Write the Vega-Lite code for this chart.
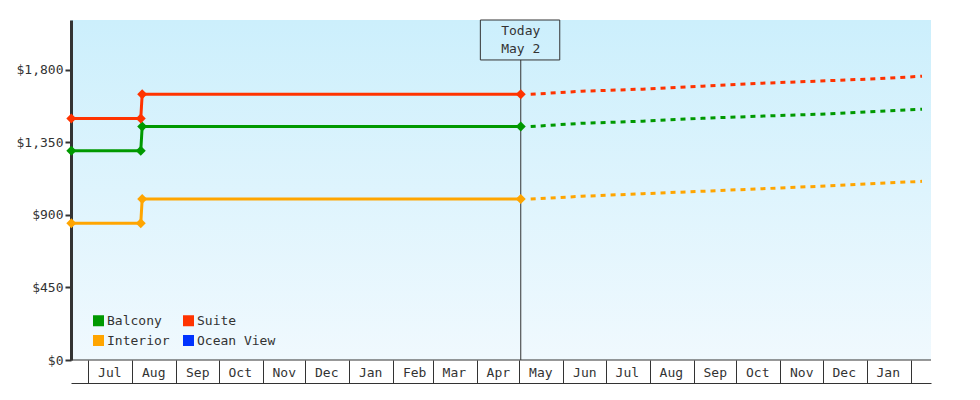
{
  "$schema": "https://vega.github.io/schema/vega-lite/v6.json",
  "width": 860,
  "height": 340,
  "autosize": {"type": "none"},
  "padding": {"left": 71, "top": 20, "right": 49, "bottom": 40},
  "background": "white",
  "data": {
    "values": [
      {"series": "Balcony", "date": "2024-06-19T00:00:00", "price": 1299, "kind": "actual"},
      {"series": "Balcony", "date": "2024-08-07T00:00:00", "price": 1299, "kind": "actual"},
      {"series": "Balcony", "date": "2024-08-08T00:00:00", "price": 1449, "kind": "actual"},
      {"series": "Balcony", "date": "2025-05-02T00:00:00", "price": 1449, "kind": "actual"},
      {"series": "Suite", "date": "2024-06-19T00:00:00", "price": 1499, "kind": "actual"},
      {"series": "Suite", "date": "2024-08-07T00:00:00", "price": 1499, "kind": "actual"},
      {"series": "Suite", "date": "2024-08-08T00:00:00", "price": 1649, "kind": "actual"},
      {"series": "Suite", "date": "2025-05-02T00:00:00", "price": 1649, "kind": "actual"},
      {"series": "Interior", "date": "2024-06-19T00:00:00", "price": 849, "kind": "actual"},
      {"series": "Interior", "date": "2024-08-07T00:00:00", "price": 849, "kind": "actual"},
      {"series": "Interior", "date": "2024-08-08T00:00:00", "price": 999, "kind": "actual"},
      {"series": "Interior", "date": "2025-05-02T00:00:00", "price": 999, "kind": "actual"},
      {"series": "Suite", "date": "2025-05-09T00:00:00", "price": 1649, "kind": "forecast"},
      {"series": "Suite", "date": "2025-06-14T00:00:00", "price": 1668, "kind": "forecast"},
      {"series": "Suite", "date": "2025-07-27T00:00:00", "price": 1681, "kind": "forecast"},
      {"series": "Suite", "date": "2025-09-07T00:00:00", "price": 1699, "kind": "forecast"},
      {"series": "Suite", "date": "2025-10-17T00:00:00", "price": 1717, "kind": "forecast"},
      {"series": "Suite", "date": "2025-11-28T00:00:00", "price": 1731, "kind": "forecast"},
      {"series": "Suite", "date": "2026-01-10T00:00:00", "price": 1746, "kind": "forecast"},
      {"series": "Suite", "date": "2026-02-09T00:00:00", "price": 1761, "kind": "forecast"},
      {"series": "Balcony", "date": "2025-05-09T00:00:00", "price": 1449, "kind": "forecast"},
      {"series": "Balcony", "date": "2025-06-14T00:00:00", "price": 1469, "kind": "forecast"},
      {"series": "Balcony", "date": "2025-07-27T00:00:00", "price": 1482, "kind": "forecast"},
      {"series": "Balcony", "date": "2025-09-07T00:00:00", "price": 1500, "kind": "forecast"},
      {"series": "Balcony", "date": "2025-10-17T00:00:00", "price": 1513, "kind": "forecast"},
      {"series": "Balcony", "date": "2025-11-28T00:00:00", "price": 1525, "kind": "forecast"},
      {"series": "Balcony", "date": "2026-01-10T00:00:00", "price": 1543, "kind": "forecast"},
      {"series": "Balcony", "date": "2026-02-09T00:00:00", "price": 1556, "kind": "forecast"},
      {"series": "Interior", "date": "2025-05-09T00:00:00", "price": 999, "kind": "forecast"},
      {"series": "Interior", "date": "2025-06-14T00:00:00", "price": 1016, "kind": "forecast"},
      {"series": "Interior", "date": "2025-07-27T00:00:00", "price": 1032, "kind": "forecast"},
      {"series": "Interior", "date": "2025-09-07T00:00:00", "price": 1047, "kind": "forecast"},
      {"series": "Interior", "date": "2025-10-17T00:00:00", "price": 1062, "kind": "forecast"},
      {"series": "Interior", "date": "2025-11-28T00:00:00", "price": 1078, "kind": "forecast"},
      {"series": "Interior", "date": "2026-01-10T00:00:00", "price": 1096, "kind": "forecast"},
      {"series": "Interior", "date": "2026-02-09T00:00:00", "price": 1109, "kind": "forecast"}
    ]
  },
  "encoding": {
    "x": {
      "field": "date",
      "type": "temporal",
      "title": null,
      "scale": {
        "domain": [
          {"year": 2024, "month": 6, "date": 18, "hours": 19},
          {"year": 2026, "month": 2, "date": 15, "hours": 8}
        ]
      },
      "axis": {
        "values": [
          {"year": 2024, "month": 7, "date": 1}, {"year": 2024, "month": 8, "date": 1},
          {"year": 2024, "month": 9, "date": 1}, {"year": 2024, "month": 10, "date": 1},
          {"year": 2024, "month": 11, "date": 1}, {"year": 2024, "month": 12, "date": 1},
          {"year": 2025, "month": 1, "date": 1}, {"year": 2025, "month": 2, "date": 1},
          {"year": 2025, "month": 3, "date": 1}, {"year": 2025, "month": 4, "date": 1},
          {"year": 2025, "month": 5, "date": 1}, {"year": 2025, "month": 6, "date": 1},
          {"year": 2025, "month": 7, "date": 1}, {"year": 2025, "month": 8, "date": 1},
          {"year": 2025, "month": 9, "date": 1}, {"year": 2025, "month": 10, "date": 1},
          {"year": 2025, "month": 11, "date": 1}, {"year": 2025, "month": 12, "date": 1},
          {"year": 2026, "month": 1, "date": 1}, {"year": 2026, "month": 2, "date": 1}
        ],
        "labelExpr": "year(datum.value) == 2026 && month(datum.value) == 1 ? '' : timeFormat(datum.value, '%b')",
        "offset": 23,
        "tickSize": -23,
        "tickColor": "#333333",
        "tickWidth": 1,
        "domainColor": "#333333",
        "domainWidth": 1,
        "labelAlign": "center",
        "labelBaseline": "middle",
        "labelOffset": 21,
        "labelPadding": 12,
        "labelFlush": false,
        "labelOverlap": false,
        "grid": false
      }
    },
    "y": {
      "field": "price",
      "type": "quantitative",
      "title": null,
      "scale": {"domain": [0, 2110], "nice": false},
      "axis": {
        "values": [0, 450, 900, 1350, 1800],
        "format": "$,.0f",
        "tickSize": 6,
        "tickWidth": 2,
        "tickColor": "#333333",
        "domainColor": "#333333",
        "domainWidth": 3,
        "labelPadding": 2,
        "grid": false
      }
    }
  },
  "layer": [
    {
      "transform": [{"filter": "datum.series == 'Suite' && datum.kind == 'actual' && month(datum.date) == 4"}],
      "mark": {"type": "rule", "color": "#333333", "strokeWidth": 1},
      "encoding": {"x": null, "y": {"datum": 0}}
    },
    {
      "transform": [{"filter": "datum.series == 'Suite' && datum.kind == 'actual' && month(datum.date) == 4"}],
      "mark": {"type": "rule", "color": "#333333", "strokeWidth": 1},
      "encoding": {
        "y": {"datum": 0},
        "y2": {"datum": 1862}
      }
    },
    {
      "transform": [{"filter": "datum.series == 'Suite' && datum.kind == 'actual' && month(datum.date) == 4"}],
      "mark": {"type": "rect", "fill": null, "fillOpacity": 0, "stroke": "#333333", "strokeWidth": 1},
      "encoding": {
        "x": {"datum": {"year": 2025, "month": 4, "date": 3, "hours": 12}},
        "x2": {"datum": {"year": 2025, "month": 5, "date": 29, "hours": 12}},
        "y": {"datum": 2110},
        "y2": {"datum": 1862}
      }
    },
    {
      "transform": [{"filter": "datum.series == 'Suite' && datum.kind == 'actual' && month(datum.date) == 4"}],
      "mark": {"type": "text", "color": "#333333", "fontSize": 13, "baseline": "middle", "align": "center", "lineHeight": 18},
      "encoding": {
        "y": {"datum": 2039},
        "text": {"value": ["Today", "May 2"]}
      }
    },
    {
      "transform": [{"filter": "datum.series == 'Balcony'"}],
      "mark": {"type": "line", "strokeWidth": 3, "strokeCap": "butt", "color": "#009900"},
      "encoding": {
        "strokeDash": {"field": "kind", "type": "nominal", "scale": {"domain": ["actual", "forecast"], "range": [[1, 0], [5, 5]]}, "legend": null}
      }
    },
    {
      "transform": [{"filter": "datum.series == 'Suite'"}],
      "mark": {"type": "line", "strokeWidth": 3, "strokeCap": "butt", "color": "#ff3300"},
      "encoding": {
        "strokeDash": {"field": "kind", "type": "nominal", "scale": {"domain": ["actual", "forecast"], "range": [[1, 0], [5, 5]]}, "legend": null}
      }
    },
    {
      "transform": [{"filter": "datum.series == 'Interior'"}],
      "mark": {"type": "line", "strokeWidth": 3, "strokeCap": "butt", "color": "#ffa500"},
      "encoding": {
        "strokeDash": {"field": "kind", "type": "nominal", "scale": {"domain": ["actual", "forecast"], "range": [[1, 0], [5, 5]]}, "legend": null}
      }
    },
    {
      "transform": [{"filter": "datum.kind == 'actual'"}],
      "mark": {"type": "point", "shape": "diamond", "filled": true, "size": 100, "opacity": 1},
      "encoding": {
        "color": {
          "field": "series",
          "type": "nominal",
          "scale": {"domain": ["Balcony", "Suite", "Interior", "Ocean View"], "range": ["#009900", "#ff3300", "#ffa500", "#0033ff"]},
          "legend": {
            "title": null,
            "orient": "none",
            "legendX": 21,
            "legendY": 294,
            "direction": "horizontal",
            "columns": 2,
            "symbolType": "square",
            "symbolSize": 121,
            "symbolStrokeWidth": 0,
            "labelOffset": 2,
            "rowPadding": 6,
            "columnPadding": 12,
            "padding": 0
          }
        }
      }
    }
  ],
  "config": {
    "font": "DejaVu Sans Mono",
    "axis": {"labelFont": "DejaVu Sans Mono", "labelFontSize": 13, "labelColor": "#333333"},
    "legend": {"labelFont": "DejaVu Sans Mono", "labelFontSize": 13, "labelColor": "#333333"},
    "text": {"font": "DejaVu Sans Mono"},
    "view": {
      "stroke": null,
      "fill": {
        "gradient": "linear",
        "x1": 0, "y1": 0, "x2": 0, "y2": 1,
        "stops": [
          {"offset": 0, "color": "#cceffc"},
          {"offset": 1, "color": "#f0f9fe"}
        ]
      }
    }
  }
}
